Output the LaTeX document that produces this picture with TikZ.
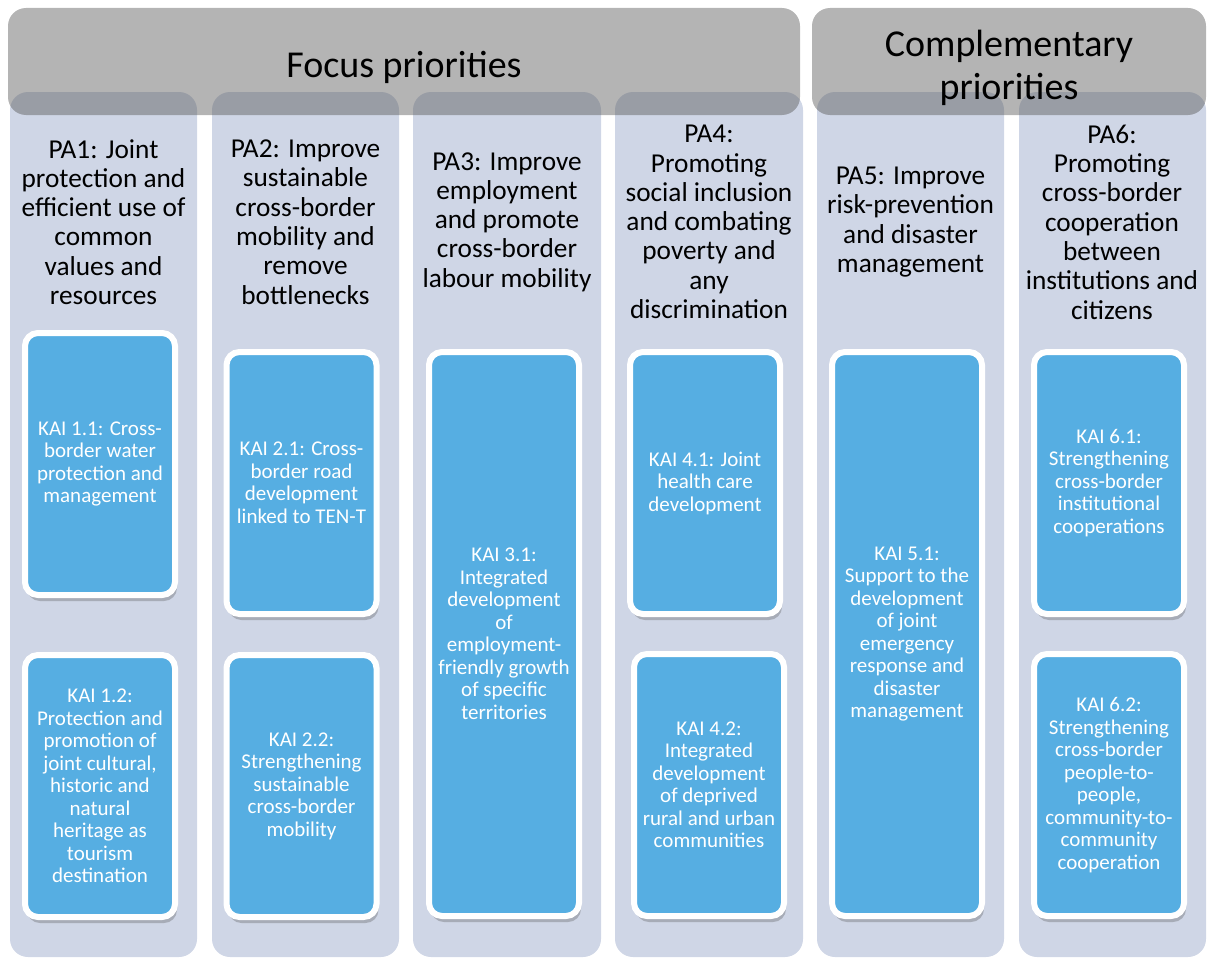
\documentclass[tikz,border=0pt]{standalone}
\usepackage{fontspec}
\setmainfont{Carlito}
\usetikzlibrary{shadows}
\definecolor{colfill}{RGB}{207,214,230}
\definecolor{kaiblue}{RGB}{86,174,226}
\definecolor{bangray}{RGB}{88,88,88}
\tikzset{
  column/.style={fill=colfill, rounded corners=18pt},
  banner/.style={fill=bangray, fill opacity=0.45, rounded corners=18pt},
  kai/.style={rectangle, rounded corners=13pt, fill=kaiblue, draw=white, line width=6pt,
    text=white, align=center, font=\fontsize{21}{22.5}\selectfont,
    minimum width=150pt, minimum height=262pt, inner sep=0pt,
    drop shadow={shadow xshift=2pt, shadow yshift=-6pt, opacity=0.3, fill=black!70}},
  kaitall/.style={kai, minimum height=564pt},
  pa/.style={align=center, font=\fontsize{27.3}{29.3}\selectfont, inner sep=0pt},
  bantitle/.style={align=center, font=\fontsize{38}{43}\selectfont, inner sep=0pt}
}
\begin{document}
\begin{tikzpicture}[x=1pt,y=-1pt]
\useasboundingbox (0,0) rectangle (1218,958);
% columns
\path[column] (10,92) rectangle (197,957);
\path[column] (212,92) rectangle (399,957);
\path[column] (413,92) rectangle (601,957);
\path[column] (615,92) rectangle (803,957);
\path[column] (817,92) rectangle (1004,957);
\path[column] (1019,92) rectangle (1206,957);
% banners
\path[banner] (8,8) rectangle (800,115);
\path[banner] (812,8) rectangle (1206,115);
\node[bantitle] (focus) at (404,67) {Focus priorities};
\node[bantitle] (compl) at (1009,68) {Complementary\\priorities};
% priority axes
\node[pa] (pa1) at (103.5,222) {PA1: Joint\\protection and\\efficient use of\\common\\values and\\resources};
\node[pa] (pa2) at (305.5,222) {PA2: Improve\\sustainable\\cross-border\\mobility and\\remove\\bottlenecks};
\node[pa] (pa3) at (507,222) {PA3: Improve\\employment\\and promote\\cross-border\\labour mobility};
\node[pa] (pa4) at (709,222) {PA4:\\Promoting\\social inclusion\\and combating\\poverty and\\any\\discrimination};
\node[pa] (pa5) at (910.5,222) {PA5: Improve\\risk-prevention\\and disaster\\management};
\node[pa] (pa6) at (1112,222) {PA6:\\Promoting\\cross-border\\cooperation\\between\\institutions and\\citizens};
% KAI boxes
\node[kai] (k11) at (100,464) {KAI 1.1: Cross-\\border water\\protection and\\management};
\node[kai] (k12) at (100,786) {KAI 1.2:\\Protection and\\promotion of\\joint cultural,\\historic and\\natural\\heritage as\\tourism\\destination};
\node[kai] (k21) at (301.5,483) {KAI 2.1: Cross-\\border road\\development\\linked to TEN-T};
\node[kai] (k22) at (301.5,786) {KAI 2.2:\\Strengthening\\sustainable\\cross-border\\mobility};
\node[kaitall] (k31) at (504,634) {KAI 3.1:\\Integrated\\development\\of\\employment-\\friendly growth\\of specific\\territories};
\node[kai] (k41) at (705,483) {KAI 4.1: Joint\\health care\\development};
\node[kai] (k42) at (709,785) {KAI 4.2:\\Integrated\\development\\of deprived\\rural and urban\\communities};
\node[kaitall] (k51) at (907,634) {KAI 5.1:\\Support to the\\development\\of joint\\emergency\\response and\\disaster\\management};
\node[kai] (k61) at (1109,483) {KAI 6.1:\\Strengthening\\cross-border\\institutional\\cooperations};
\node[kai] (k62) at (1109,785) {KAI 6.2:\\Strengthening\\cross-border\\people-to-\\people,\\community-to-\\community\\cooperation};
\end{tikzpicture}
\end{document}
